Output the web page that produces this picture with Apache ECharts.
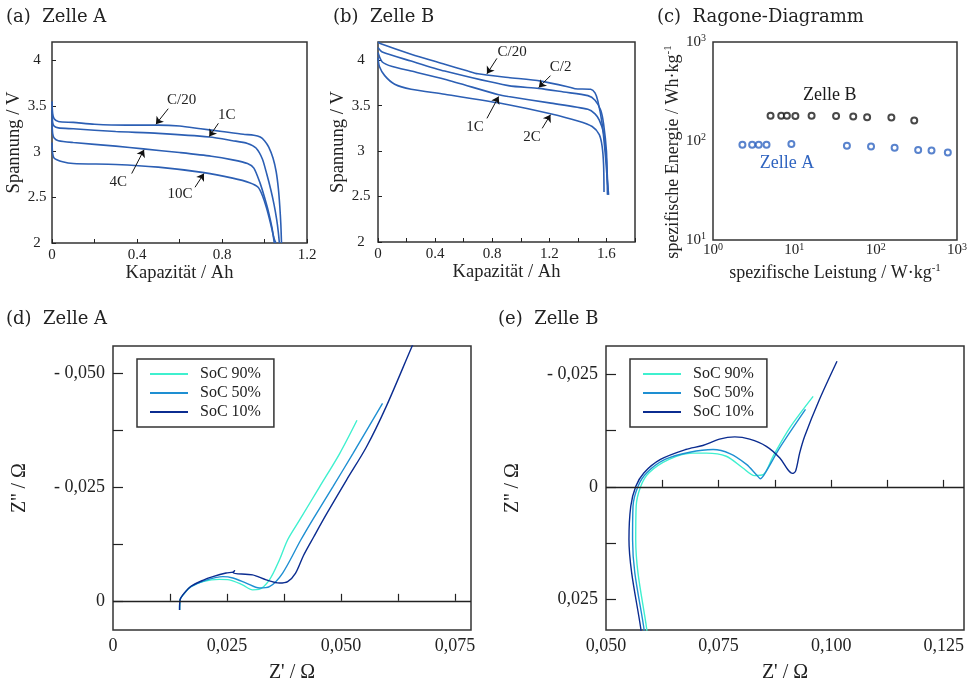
<!DOCTYPE html>
<html>
<head>
<meta charset="utf-8">
<script src="https://cdn.jsdelivr.net/npm/echarts@6/dist/echarts.min.js"></script>
<style>
  html, body { margin: 0; background: #fff; }
  #chart { width: 970px; height: 685px; }
</style>
</head>
<body>
<div id="chart"></div>
<script>
const FONT = '"Liberation Serif", "DejaVu Serif", serif'
const TITLE_FONT = '"DejaVu Serif", serif'
const INK = '#222'
const CURVE = '#2c5fb4'
const BLUE_A = '#2f64c0'
const SOC_COLORS = ['#3ff0cf', '#1e8fd2', '#0b2c90']

// (a) Zelle A, Entladekurven [Kapazität Ah, Spannung V]
const zelleA_C20 = [[0, 3.55], [0.003, 3.42], [0.01, 3.36], [0.03, 3.33], [0.1, 3.32], [0.2, 3.3], [0.35, 3.29], [0.5, 3.29], [0.6, 3.28], [0.7, 3.25], [0.8, 3.22], [0.9, 3.19], [0.95, 3.18], [0.98, 3.16], [1.0, 3.12], [1.02, 3.05], [1.04, 2.93], [1.055, 2.78], [1.065, 2.6], [1.072, 2.4], [1.077, 2.2], [1.08, 2.0]]
const zelleA_1C = [[0, 3.45], [0.003, 3.32], [0.01, 3.28], [0.03, 3.26], [0.1, 3.25], [0.3, 3.22], [0.5, 3.2], [0.74, 3.16], [0.85, 3.12], [0.92, 3.09], [0.96, 3.04], [0.99, 2.92], [1.01, 2.76], [1.03, 2.58], [1.045, 2.42], [1.057, 2.26], [1.065, 2.12], [1.07, 2.0]]
const zelleA_4C = [[0, 3.35], [0.003, 3.2], [0.01, 3.15], [0.03, 3.12], [0.1, 3.1], [0.3, 3.06], [0.43, 3.03], [0.6, 2.99], [0.75, 2.95], [0.85, 2.91], [0.92, 2.87], [0.95, 2.82], [0.98, 2.65], [1.0, 2.5], [1.02, 2.33], [1.035, 2.17], [1.046, 2.0]]
const zelleA_10C = [[0, 3.1], [0.003, 2.98], [0.01, 2.93], [0.05, 2.89], [0.1, 2.87], [0.3, 2.86], [0.5, 2.83], [0.715, 2.77], [0.85, 2.71], [0.93, 2.66], [0.97, 2.61], [0.99, 2.52], [1.01, 2.38], [1.03, 2.2], [1.045, 2.05], [1.054, 2.0]]

// (b) Zelle B
const zelleB_C20 = [[0, 4.2], [0.02, 4.18], [0.232, 4.066], [0.467, 3.956], [0.63, 3.88], [0.7, 3.85], [0.913, 3.81], [1.14, 3.77], [1.35, 3.7], [1.38, 3.685], [1.49, 3.68], [1.52, 3.64], [1.54, 3.55], [1.57, 3.3], [1.59, 3.0], [1.605, 2.7], [1.615, 2.52]]
const zelleB_C2 = [[0, 4.14], [0.03, 4.09], [0.232, 3.99], [0.467, 3.88], [0.913, 3.72], [1.126, 3.69], [1.3, 3.65], [1.47, 3.61], [1.52, 3.56], [1.56, 3.45], [1.58, 3.3], [1.6, 3.0], [1.605, 2.7], [1.607, 2.52]]
const zelleB_1C = [[0, 4.085], [0.03, 3.98], [0.1, 3.93], [0.232, 3.88], [0.467, 3.79], [0.845, 3.62], [0.913, 3.6], [1.2, 3.53], [1.47, 3.46], [1.52, 3.41], [1.55, 3.34], [1.58, 3.2], [1.6, 2.9], [1.61, 2.6], [1.612, 2.52]]
const zelleB_2C = [[0, 4.03], [0.01, 3.93], [0.047, 3.83], [0.117, 3.735], [0.232, 3.68], [0.467, 3.625], [0.913, 3.51], [1.208, 3.41], [1.4, 3.33], [1.5, 3.27], [1.55, 3.18], [1.57, 3.05], [1.58, 2.85], [1.583, 2.55]]

// annotations: label, text position, arrow start, arrow tip (data coords)
const notesA = [
  { label: 'C/20', text: [0.61, 3.56], from: [0.547, 3.47], to: [0.489, 3.30] },
  { label: '1C', text: [0.822, 3.40], from: [0.783, 3.31], to: [0.74, 3.165] },
  { label: '4C', text: [0.312, 2.67], from: [0.375, 2.76], to: [0.433, 3.02] },
  { label: '10C', text: [0.602, 2.54], from: [0.673, 2.61], to: [0.715, 2.76] }
]
const notesB = [
  { label: 'C/20', text: [0.939, 4.09], from: [0.833, 4.02], to: [0.763, 3.85] },
  { label: 'C/2', text: [1.279, 3.92], from: [1.208, 3.83], to: [1.126, 3.70] },
  { label: '1C', text: [0.68, 3.26], from: [0.763, 3.36], to: [0.845, 3.60] },
  { label: '2C', text: [1.079, 3.15], from: [1.15, 3.25], to: [1.208, 3.40] }
]

// (c) Ragone [W/kg, Wh/kg]
const ragoneA = [[2.3, 91.4], [3.03, 91.4], [3.65, 91.4], [4.55, 91.4], [9.2, 93.5], [44.3, 89.3], [87.7, 87.9], [171, 85.3], [333, 81.3], [486, 80], [771, 76.4]]
const ragoneB = [[5.1, 179.5], [6.9, 179.5], [8.1, 179.5], [10.3, 179], [16.3, 179.5], [32.6, 179], [53, 177], [78.5, 174], [156, 173], [298, 161]]
const ragoneLabels = [{ name: 'Zelle B', coord: [27.2, 293] }, { name: 'Zelle A', coord: [8.15, 59.7] }]

// (d) Zelle A Impedanz [Z', -Z'']
const eisA_90 = [[0.0146, -0.0020], [0.0147, 0.0002], [0.0157, 0.0017], [0.0171, 0.0031], [0.0197, 0.0042], [0.0233, 0.0047], [0.0255, 0.0046], [0.0284, 0.0035], [0.0306, 0.0024], [0.0320, 0.0025], [0.0343, 0.0046], [0.0365, 0.0090], [0.0383, 0.0134], [0.0409, 0.0177], [0.0453, 0.0250], [0.0497, 0.0323], [0.0535, 0.0396]]
const eisA_50 = [[0.0146, -0.0020], [0.0147, 0.0002], [0.0157, 0.0017], [0.0171, 0.0031], [0.0197, 0.0043], [0.0241, 0.0053], [0.0263, 0.0050], [0.0292, 0.0039], [0.0321, 0.0028], [0.0343, 0.0031], [0.0372, 0.0061], [0.0412, 0.0134], [0.0439, 0.0180], [0.0482, 0.0250], [0.0526, 0.0323], [0.0591, 0.0433]]
const eisA_10 = [[0.0146, -0.0020], [0.0147, 0.0002], [0.0157, 0.0018], [0.0171, 0.0032], [0.0197, 0.0045], [0.0219, 0.0053], [0.0248, 0.0061], [0.0263, 0.0063], [0.0267, 0.0067], [0.0264, 0.0061], [0.0306, 0.0057], [0.0336, 0.0046], [0.0365, 0.0039], [0.0383, 0.0042], [0.0400, 0.0060], [0.0418, 0.0100], [0.0440, 0.0140], [0.0468, 0.0190], [0.0512, 0.0265], [0.0556, 0.0338], [0.0599, 0.0426], [0.0656, 0.0559], [0.0670, 0.0590]]

// (e) Zelle B Impedanz
const eisB_90 = [[0.0592, -0.0340], [0.0590, -0.0313], [0.0571, -0.0191], [0.0566, -0.0117], [0.0567, -0.0043], [0.0577, 0.0001], [0.0595, 0.0031], [0.0640, 0.0061], [0.0692, 0.0075], [0.0723, 0.0075], [0.0767, 0.0068], [0.0804, 0.0042], [0.0830, 0.0025], [0.0849, 0.0027], [0.0871, 0.0068], [0.0908, 0.0131], [0.0960, 0.0201]]
const eisB_50 = [[0.0586, -0.0340], [0.0584, -0.0313], [0.0564, -0.0191], [0.0559, -0.0117], [0.0560, -0.0043], [0.0571, 0.0001], [0.0590, 0.0031], [0.0631, 0.0061], [0.0686, 0.0077], [0.0738, 0.0083], [0.0775, 0.0074], [0.0812, 0.0050], [0.0834, 0.0027], [0.0843, 0.0018], [0.0856, 0.0035], [0.0886, 0.0087], [0.0943, 0.0172]]
const eisB_10 = [[0.0579, -0.0340], [0.0577, -0.0313], [0.0557, -0.0191], [0.0551, -0.0117], [0.0555, -0.0043], [0.0566, 0.0001], [0.0584, 0.0031], [0.0621, 0.0061], [0.0677, 0.0083], [0.0715, 0.0092], [0.0752, 0.0106], [0.0786, 0.0111], [0.0819, 0.0106], [0.0856, 0.0090], [0.0886, 0.0064], [0.0904, 0.0038], [0.0914, 0.0030], [0.0921, 0.0035], [0.0930, 0.0075], [0.0941, 0.0112], [0.0974, 0.0194], [0.1013, 0.0279]]

const socNames = ['SoC 90%', 'SoC 50%', 'SoC 10%']

const chart = echarts.init(document.getElementById('chart'))

const txt = (size) => ({ fontFamily: FONT, fontSize: size, color: INK })
const comma = (v) => v.toFixed(3).replace('.', ',')
const sup = { b: { fontFamily: FONT, fontSize: 15, color: INK, lineHeight: 17 }, s: { fontFamily: FONT, fontSize: 10, color: INK, verticalAlign: 'top', lineHeight: 17 } }
const supName = { s: { fontFamily: FONT, fontSize: 11, color: INK, verticalAlign: 'top', lineHeight: 20 } }
const pow10 = (v) => '{b|10}{s|' + Math.round(Math.log10(v)) + '}'

function voltAxisX(idx, max, showMax) {
  return {
    gridIndex: idx, type: 'value', min: 0, max, interval: 0.4,
    name: 'Kapazität / Ah', nameLocation: 'middle', nameGap: 18, nameTextStyle: txt(18.5),
    axisLine: { show: false }, splitLine: { show: false },
    axisTick: { inside: true, length: 4, lineStyle: { color: INK } },
    minorTick: { show: true, splitNumber: 2, length: 4, lineStyle: { color: INK } },
    axisLabel: { ...txt(15), margin: 5, showMaxLabel: showMax, formatter: (v) => String(+v.toFixed(1)) }
  }
}
function voltAxisY(idx, margin, gap) {
  return {
    gridIndex: idx, type: 'value', min: 2, max: 4.2, interval: 0.5,
    name: 'Spannung / V', nameLocation: 'middle', nameGap: gap, nameTextStyle: txt(18.5),
    axisLine: { show: false }, splitLine: { show: false },
    axisTick: { inside: true, length: 4, lineStyle: { color: INK } },
    axisLabel: { ...txt(15), margin, align: 'center', showMaxLabel: false, formatter: (v) => String(+v.toFixed(1)) }
  }
}
function eisX(idx, range, ticks, labels) {
  return {
    gridIndex: idx, type: 'value', min: range[0], max: range[1],
    name: "Z' / Ω", nameLocation: 'middle', nameGap: 33, nameTextStyle: txt(20),
    axisLine: { show: false }, splitLine: { show: false },
    axisTick: { inside: true, length: 7, customValues: ticks, lineStyle: { color: INK, width: 1.2 } },
    axisLabel: { ...txt(18), margin: 7, customValues: labels, formatter: (v) => v === 0 ? '0' : comma(v) }
  }
}
function eisY(idx, range, ticks, labels) {
  return {
    gridIndex: idx, type: 'value', min: range[0], max: range[1],
    name: "Z'' / Ω", nameLocation: 'middle', nameGap: 83, nameTextStyle: txt(20),
    axisLine: { show: false }, splitLine: { show: false },
    axisTick: { inside: true, length: 10, customValues: ticks, lineStyle: { color: INK, width: 1.2 } },
    axisLabel: { ...txt(18), margin: 8, customValues: labels, formatter: (v) => Math.abs(v) < 1e-9 ? '0' : (v > 0 ? '- ' : '') + comma(Math.abs(v)) }
  }
}

function curve(data, xi) {
  return { type: 'line', xAxisIndex: xi, yAxisIndex: xi, data, symbol: 'none', silent: true, smooth: 0.25,
    lineStyle: { color: CURVE, width: 1.6 }, itemStyle: { color: CURVE } }
}
function withNotes(series, notes) {
  series.markLine = {
    silent: true, symbol: ['none', 'arrow'], symbolSize: 7, label: { show: false },
    lineStyle: { color: '#111', width: 1, type: 'solid' },
    data: notes.map((n) => [{ coord: n.from }, { coord: n.to }])
  }
  series.markPoint = {
    silent: true, symbol: 'circle', symbolSize: 1, itemStyle: { color: 'rgba(0,0,0,0)' },
    label: { show: true, position: 'inside', formatter: '{b}', ...txt(15) },
    data: notes.map((n) => ({ name: n.label, coord: n.text }))
  }
  return series
}
function ragone(data, color, label) {
  return {
    type: 'scatter', xAxisIndex: 2, yAxisIndex: 2, data, symbol: 'emptyCircle', symbolSize: 6, silent: true,
    itemStyle: { color, borderWidth: 1.2 },
    markPoint: { silent: true, symbol: 'circle', symbolSize: 1, itemStyle: { color: 'rgba(0,0,0,0)' },
      label: { show: true, position: 'inside', formatter: '{b}', ...txt(18), color },
      data: [label] }
  }
}
function eis(data, xi, k, zeroLine) {
  const s = { type: 'line', name: socNames[k], xAxisIndex: xi, yAxisIndex: xi, data, symbol: 'none', silent: true, smooth: 0.3,
    lineStyle: { color: SOC_COLORS[k], width: 1.4 }, itemStyle: { color: SOC_COLORS[k] } }
  if (zeroLine) {
    s.markLine = { silent: true, symbol: 'none', label: { show: false },
      lineStyle: { color: INK, width: 1.4, type: 'solid' }, data: [{ yAxis: 0 }] }
  }
  return s
}
function legendAt(left) {
  return {
    left, top: 359, orient: 'vertical', selectedMode: false, data: socNames,
    borderColor: '#333', borderWidth: 1.5, padding: [7, 13, 7, 13],
    icon: 'rect', itemWidth: 38, itemHeight: 2, itemGap: 3,
    textStyle: { ...txt(16), padding: [0, 0, 0, 7] }
  }
}
function title(text, left, top) {
  return { text, left, top, padding: 0, textStyle: { fontFamily: TITLE_FONT, fontSize: 18, color: INK, fontWeight: 'normal' } }
}

const gridBox = { show: true, borderColor: '#333', borderWidth: 1.5, backgroundColor: 'transparent' }

const eisAx = [[0, 0.0785], [-0.0064, 0.0559]]
const eisBx = [[0.05, 0.1295], [-0.0318, 0.0313]]

chart.setOption({
  animation: false,
  title: [
    title('(a)  Zelle A', 6, 8),
    title('(b)  Zelle B', 333, 8),
    title('(c)  Ragone-Diagramm', 657, 8),
    title('(d)  Zelle A', 6, 310),
    title('(e)  Zelle B', 498, 310)
  ],
  legend: [legendAt(137), legendAt(630)],
  grid: [
    { ...gridBox, left: 52, top: 42, width: 255, height: 201 },
    { ...gridBox, left: 378, top: 42, width: 257, height: 200 },
    { ...gridBox, left: 713, top: 42, width: 249, height: 198 },
    { ...gridBox, left: 113, top: 346, width: 358, height: 284 },
    { ...gridBox, left: 606, top: 346, width: 358, height: 284 }
  ],
  xAxis: [
    voltAxisX(0, 1.2, true),
    voltAxisX(1, 1.8, false),
    {
      gridIndex: 2, type: 'log', logBase: 10, min: 1, max: 1000,
      name: 'spezifische Leistung / W·kg{s|-1}', nameLocation: 'middle', nameGap: 23,
      nameTextStyle: { ...txt(18), rich: supName },
      axisLine: { show: false }, splitLine: { show: false }, axisTick: { show: false },
      axisLabel: { margin: 2, formatter: pow10, rich: sup }
    },
    eisX(3, eisAx[0], [0.0125, 0.025, 0.0375, 0.05, 0.0625, 0.075], [0, 0.025, 0.05, 0.075]),
    eisX(4, eisBx[0], [0.0625, 0.075, 0.0875, 0.1, 0.1125, 0.125], [0.05, 0.075, 0.1, 0.125])
  ],
  yAxis: [
    voltAxisY(0, 15, 27),
    voltAxisY(1, 17, 26),
    {
      gridIndex: 2, type: 'log', logBase: 10, min: 10, max: 1000,
      name: 'spezifische Energie / Wh·kg{s|-1}', nameLocation: 'middle', nameGap: 29,
      nameTextStyle: { ...txt(18), rich: supName, padding: [0, 22, 0, 0] },
      axisLine: { show: false }, splitLine: { show: false }, axisTick: { show: false },
      axisLabel: { margin: 7, formatter: pow10, rich: sup }
    },
    eisY(3, eisAx[1], [0, 0.0125, 0.025, 0.0375, 0.05], [0, 0.025, 0.05]),
    eisY(4, eisBx[1], [-0.025, -0.0125, 0, 0.0125, 0.025], [-0.025, 0, 0.025])
  ],
  series: [
    withNotes(curve(zelleA_C20, 0), notesA),
    curve(zelleA_1C, 0),
    curve(zelleA_4C, 0),
    curve(zelleA_10C, 0),
    withNotes(curve(zelleB_C20, 1), notesB),
    curve(zelleB_C2, 1),
    curve(zelleB_1C, 1),
    curve(zelleB_2C, 1),
    ragone(ragoneB, '#1a1a1a', ragoneLabels[0]),
    ragone(ragoneA, BLUE_A, ragoneLabels[1]),
    eis(eisA_90, 3, 0, true),
    eis(eisA_50, 3, 1),
    eis(eisA_10, 3, 2),
    eis(eisB_90, 4, 0, true),
    eis(eisB_50, 4, 1),
    eis(eisB_10, 4, 2)
  ]
})
</script>
</body>
</html>
